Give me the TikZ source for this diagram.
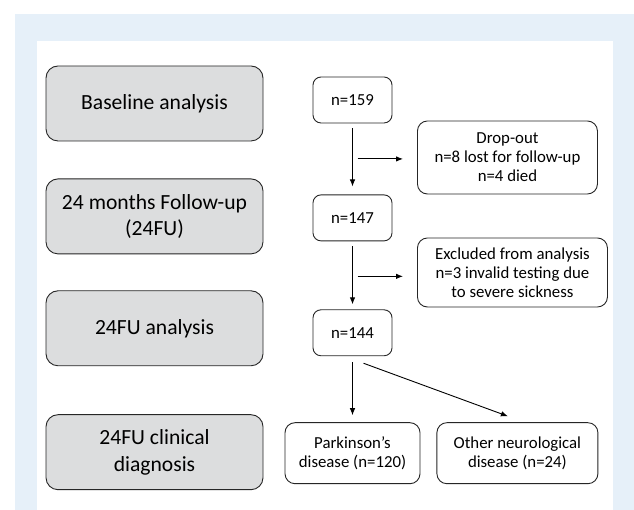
\documentclass[tikz,border=0pt]{standalone}
\usepackage{fontspec}
\setmainfont{Carlito}
\usepackage{tikz}
\usetikzlibrary{shapes,arrows,arrows.meta,positioning,calc}
\definecolor{frameblue}{HTML}{E6F0F9}
\definecolor{stagegray}{HTML}{DCDDDE}
\tikzstyle{stage} = [rectangle, rounded corners=12pt, minimum width=217pt, minimum height=75pt, text centered, align=center, draw=black!85, line width=0.9pt, fill=stagegray, font=\fontsize{21.6}{26.6}\selectfont]
\tikzstyle{count} = [rectangle, rounded corners=8pt, minimum width=79pt, minimum height=46pt, text centered, draw=black!85, line width=0.9pt, fill=white, font=\fontsize{16.8}{19}\selectfont]
\tikzstyle{info} = [rectangle, rounded corners=10pt, minimum height=61pt, text centered, align=center, draw=black!85, line width=0.9pt, fill=white, font=\fontsize{16.8}{19}\selectfont]
\tikzstyle{arrow} = [line width=0.9pt,-{Latex[length=7pt,width=5.5pt]}]

\begin{document}
\begin{tikzpicture}[x=1pt,y=1pt]
					\useasboundingbox (0,0) rectangle (634,510);
					\fill[frameblue] (15,0) rectangle (634,496);
					\fill[white] (37,0) rectangle (613,469);
					
					% stages on the left
					\node (Baseline) [stage] at (154.5,406.5) {Baseline analysis};
					\node (FollowUp) [stage, below = 37pt of Baseline] {24 months Follow-up\\(24FU)};
					\node (Analysis) [stage, below = 36pt of FollowUp] {24FU analysis};
					\node (Diagnosis) [stage, below = 48pt of Analysis] {24FU clinical\\diagnosis};
					
					% counts
					\node (N159) [count] at (352.5,410) {n=159};
					\node (N147) [count, below = 71pt of N159] {n=147};
					\node (N144) [count, below = 68pt of N147] {n=144};
					\node (Parkinson) [info, minimum width=135pt, below = 66pt of N144] {Parkinson’s\\disease (n=120)};
					\node (Other) [info, minimum width=161pt, right = 16pt of Parkinson] {Other neurological\\disease (n=24)};
					
					\node (DropOut) [info, minimum width=180pt, minimum height=73pt, anchor=west] at (417,352.5) {Drop-out\\n=8 lost for follow-up\\n=4 died};
					\node (Excluded) [info, minimum width=190pt, minimum height=69pt, anchor=west] at (417,237.5) {Excluded from analysis\\n=3 invalid testing due\\to severe sickness};
					
					\coordinate (Split1) at ($(N159.south)!0.5!(N147.north)$);
					\coordinate (Split2) at ($(N147.south)!0.5!(N144.north)$);
					
					\draw[arrow, shorten <=5pt, shorten >=8pt] (N159) -- (N147);
					\draw[arrow, shorten <=5pt, shorten >=5pt] (N147) -- (N144);
					\draw[arrow] ([xshift=5pt]Split1) -- ([xshift=-14pt]DropOut.west |- Split1);
					\draw[arrow] ([xshift=5pt,yshift=-1pt]Split2) -- ([xshift=-14pt,yshift=-1pt]Excluded.west |- Split2);
					\draw[arrow, shorten <=6pt, shorten >=7pt] (N144) -- (Parkinson);
					\draw[arrow] ([xshift=11pt,yshift=-7pt]N144.south) -- ([xshift=-9.5pt,yshift=6pt]Other.north);
				\end{tikzpicture}
\end{document}
